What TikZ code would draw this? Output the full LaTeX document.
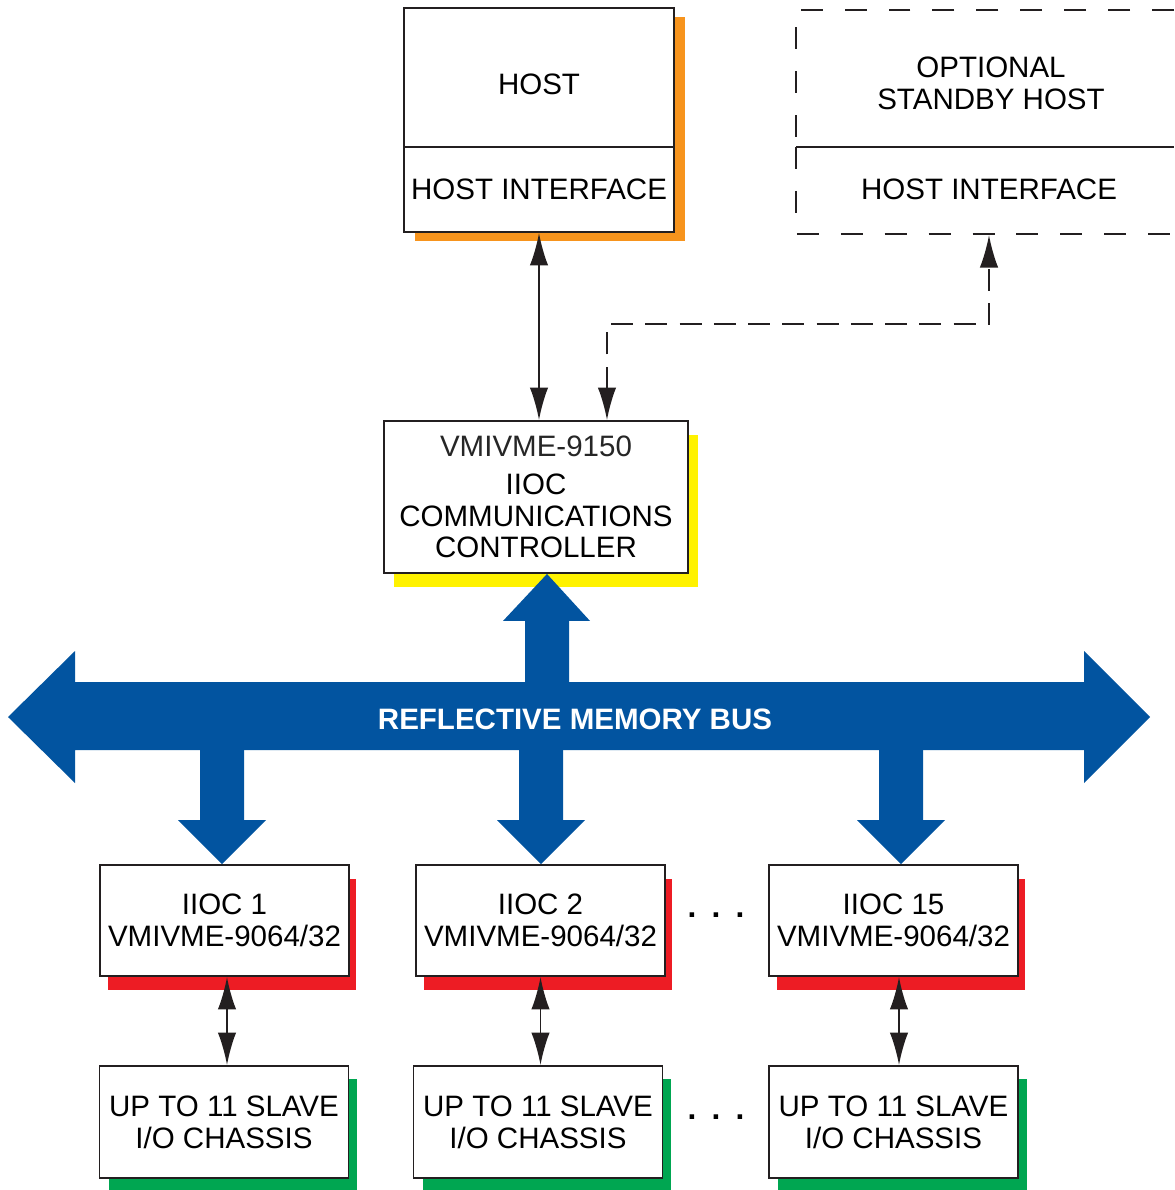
\documentclass[tikz,border=0pt]{standalone}
\usepackage{fontspec}
\setmainfont{Liberation Sans}
\usetikzlibrary{arrows.meta,shadows}

\definecolor{busblue}{HTML}{0254A0}
\definecolor{inkblack}{HTML}{231F20}
\definecolor{hostorange}{HTML}{F7941D}
\definecolor{ctrlyellow}{HTML}{FFF200}
\definecolor{iocred}{HTML}{ED1C24}
\definecolor{iogreen}{HTML}{00A651}

\tikzset{
  bigtip/.tip={Latex[length=18.5pt,width=10.5pt]},
  label font/.style={font=\fontsize{16.8}{18.1}\selectfont},
  plain/.style={label font, align=center, inner sep=0pt},
  box/.style={plain, draw=inkblack, line width=1.1pt, fill=white},
  backing/.style n args={3}{drop shadow={shadow xshift=#2, shadow yshift=#3, fill=#1, opacity=1}},
  link/.style={draw=inkblack, line width=1.1pt, arrows={bigtip-bigtip}},
  frame/.style={draw=inkblack, line width=1.1pt, dash pattern=on 12.5pt off 12.5pt},
  dashlink/.style={dash pattern=on 12.5pt off 7pt}
}

\begin{document}
\begin{tikzpicture}[x=0.02cm, y=-0.02cm]
	\useasboundingbox (0,0) rectangle (1174,1190);

	% host and its interface
	\node[box, backing={hostorange}{0.22cm}{-0.18cm}, minimum width=5.4cm, minimum height=2.78cm] (host) at (539,77.5) {\raisebox{-0.13cm}[\height][\depth]{HOST}};
	\node[box, backing={hostorange}{0.22cm}{-0.18cm}, minimum width=5.4cm, minimum height=1.7cm] (hostif) at (539,189.5) {HOST INTERFACE};

	% optional standby host
	\draw[frame] (1174,10) -| (796,147);
	\draw[frame] (796,147) |- (1174,234);
	\draw[inkblack, line width=1.1pt] (796,147) -- (1174,147);
	\node[plain] (standby) at (991,83) {OPTIONAL\\STANDBY HOST};
	\node[plain] (standbyif) at (989,189) {HOST INTERFACE};
	\coordinate (sbport) at (989,235);

	% communications controller
	\node[box, backing={ctrlyellow}{0.2cm}{-0.28cm}, minimum width=6.08cm, minimum height=3.04cm] (ctrl) at (536,497)
		{\textcolor{black!85}{VMIVME-9150}\\[3.4pt]IIOC\\COMMUNICATIONS\\CONTROLLER};

	\draw[link] (hostif.south) -- (hostif.south |- ctrl.north);
	\draw[link, dashlink] ([xshift=1.42cm]ctrl.north) -- ++(0,-96) -| (sbport);

	% IIOCs and slave chassis
	\foreach \n/\x in {1/224.5, 2/540.5, 15/893.5}{
		\node[box, backing={iocred}{0.15cm}{-0.28cm}, minimum width=4.98cm, minimum height=2.22cm] (ioc\n) at (\x,920.5) {IIOC \n\\VMIVME-9064/32};
	}
	\foreach \n/\x in {1/224, 2/538, 15/893.5}{
		\node[box, backing={iogreen}{0.18cm}{-0.26cm}, minimum width=4.98cm, minimum height=2.24cm] (io\n) at (\x,1122) {UP TO 11 SLAVE\\I/O CHASSIS};
	}
	\foreach \n/\dx in {1/2.5, 2/0, 15/5.5}{
		\draw[link] ([xshift=\dx*0.02cm]ioc\n.south) -- ([xshift=\dx*0.02cm]ioc\n.south |- io\n.north);
	}

	\node[plain, font=\bfseries\fontsize{18}{18}\selectfont] (dots1) at (716,915) {.\hskip8.7pt.\hskip8.7pt.};
	\node[plain, font=\bfseries\fontsize{18}{18}\selectfont] (dots2) at (716,1117) {.\hskip8.7pt.\hskip8.7pt.};

	% reflective memory bus
	\fill[busblue] (8,717) -- (75,651) -- (75,682) -- (1084,682) -- (1084,651) -- (1150,717)
		-- (1084,783) -- (1084,750) -- (75,750) -- (75,783) -- cycle;
	\fill[busblue] ([xshift=0.22cm]ctrl.south) -- ++(43,47) -- ++(-21,0) -- ++(0,66) -- ++(-44,0) -- ++(0,-66) -- ++(-22,0) -- cycle;
	\foreach \n/\dx in {1/-2.5, 2/0.5, 15/7.5}{
		\fill[busblue] ([xshift=\dx*0.02cm]ioc\n.north) -- ++(-44,-44) -- ++(22,0) -- ++(0,-75) -- ++(44,0) -- ++(0,75) -- ++(22,0) -- cycle;
	}
	\node[plain, font=\bfseries\fontsize{16.8}{18.1}\selectfont, text=white] (bus) at (575,719) {REFLECTIVE MEMORY BUS};
\end{tikzpicture}
\end{document}
